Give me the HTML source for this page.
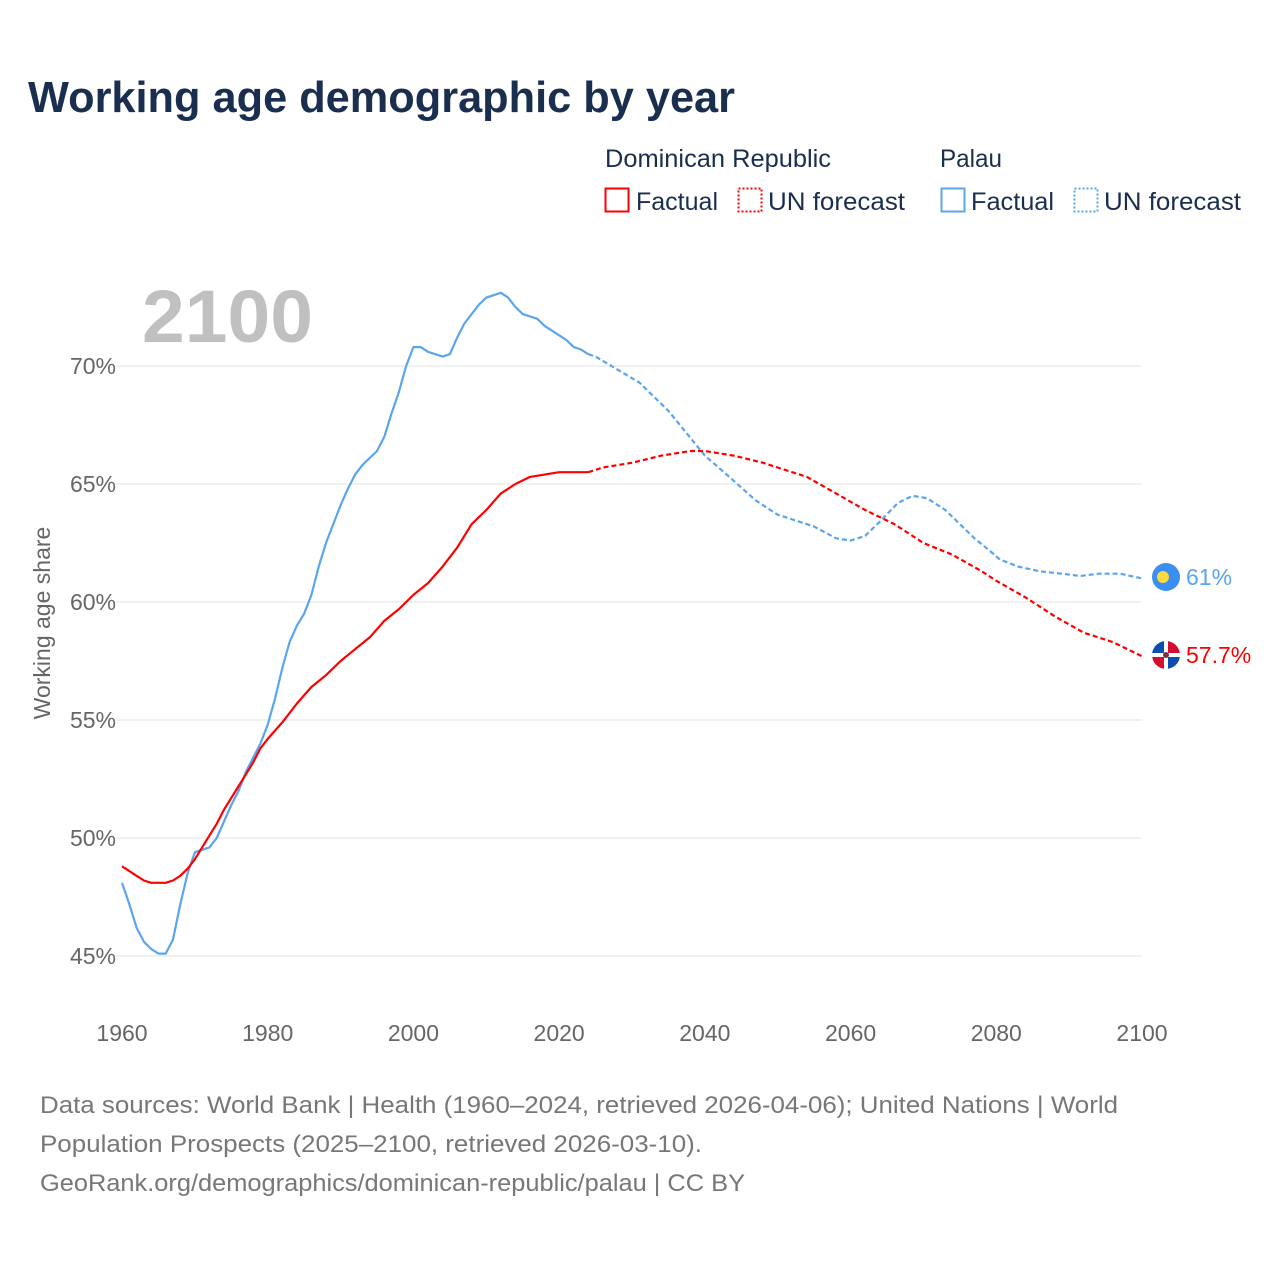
<!DOCTYPE html>
<html><head><meta charset="utf-8"><style>
html,body{margin:0;padding:0;background:#fff;}
svg{display:block;font-family:"Liberation Sans",sans-serif;}
</style></head><body>
<svg id="chart" width="1280" height="1280" viewBox="0 0 1280 1280">
<text x="28" y="112" font-size="44" font-weight="bold" fill="#1a2e4f" textLength="707" lengthAdjust="spacingAndGlyphs">Working age demographic by year</text>
<g font-size="25" fill="#1a2e4f">
<text x="605" y="167" textLength="226" lengthAdjust="spacingAndGlyphs">Dominican Republic</text>
<text x="940" y="167" textLength="62" lengthAdjust="spacingAndGlyphs">Palau</text>
<g><rect x="605.5" y="188.5" width="23" height="23" fill="none" stroke="#f00" stroke-width="2"/><text x="636" y="210" textLength="82" lengthAdjust="spacingAndGlyphs">Factual</text></g>
<g><rect x="738.5" y="188.5" width="23" height="23" fill="none" stroke="#f00" stroke-width="2" stroke-dasharray="2 2"/><text x="768" y="210" textLength="137" lengthAdjust="spacingAndGlyphs">UN forecast</text></g>
<g><rect x="941.5" y="188.5" width="23" height="23" fill="none" stroke="#5aa5ee" stroke-width="2"/><text x="971" y="210" textLength="83" lengthAdjust="spacingAndGlyphs">Factual</text></g>
<g><rect x="1074.5" y="188.5" width="23" height="23" fill="none" stroke="#5aa5ee" stroke-width="2" stroke-dasharray="2 2"/><text x="1104" y="210" textLength="137" lengthAdjust="spacingAndGlyphs">UN forecast</text></g>
</g>
<text x="142" y="342" font-size="74" font-weight="bold" fill="#c0c0c0" textLength="171" lengthAdjust="spacingAndGlyphs">2100</text>
<g id="grid"></g>
<g id="yticks" font-size="23" fill="#666"></g>
<g id="xticks" font-size="23" fill="#666"></g>
<text transform="translate(50,623) rotate(-90)" text-anchor="middle" font-size="23" fill="#666">Working age share</text>
<g id="series"></g>
<g><circle cx="1166" cy="577" r="14" fill="#3b8ff0"/><circle cx="1163" cy="577" r="6" fill="#ffd93b"/></g>
<text x="1186" y="585" font-size="23" fill="#5aa5ee">61%</text>
<g>
<clipPath id="cf"><circle cx="1166" cy="655" r="14"/></clipPath>
<g clip-path="url(#cf)"><rect x="1152" y="641" width="28" height="28" fill="#fff"/><rect x="1152" y="641" width="12" height="12" fill="#0a4fb0"/><rect x="1168" y="641" width="12" height="12" fill="#d2102e"/><rect x="1152" y="657" width="12" height="12" fill="#d2102e"/><rect x="1168" y="657" width="12" height="12" fill="#0a4fb0"/><circle cx="1166" cy="655" r="3" fill="#7a3040"/></g></g>
<text x="1186" y="663" font-size="23" fill="#f00">57.7%</text>
<g font-size="24" fill="#777">
<text x="40" y="1113" textLength="1078" lengthAdjust="spacingAndGlyphs">Data sources: World Bank | Health (1960–2024, retrieved 2026-04-06); United Nations | World</text>
<text x="40" y="1152" textLength="662" lengthAdjust="spacingAndGlyphs">Population Prospects (2025–2100, retrieved 2026-03-10).</text>
<text x="40" y="1191" textLength="705" lengthAdjust="spacingAndGlyphs">GeoRank.org/demographics/dominican-republic/palau | CC BY</text>
</g>
</svg>
<script>
const yTicks = [45, 50, 55, 60, 65, 70];
const xTicks = [1960, 1980, 2000, 2020, 2040, 2060, 2080, 2100];
const drYears = [1960,1962,1963,1964,1966,1967,1968,1969,1970,1971,1972,1973,1974,1975,1976,1977,1978,1979,1980,1982,1984,1986,1988,1990,1992,1994,1996,1998,2000,2002,2004,2006,2008,2010,2012,2014,2016,2018,2020,2024];
const drValues = [48.8,48.4,48.2,48.1,48.1,48.2,48.4,48.7,49.1,49.6,50.1,50.6,51.2,51.7,52.2,52.7,53.2,53.8,54.2,54.9,55.7,56.4,56.9,57.5,58.0,58.5,59.2,59.7,60.3,60.8,61.5,62.3,63.3,63.9,64.6,65.0,65.3,65.4,65.5,65.5];
const drFcYears = [2024,2026,2030,2034,2038,2040,2044,2048,2050,2054,2058,2062,2066,2070,2074,2078,2080,2084,2088,2092,2096,2100];
const drFcValues = [65.5,65.7,65.9,66.2,66.4,66.4,66.2,65.9,65.7,65.3,64.6,63.9,63.3,62.5,62.0,61.3,60.9,60.2,59.4,58.7,58.3,57.7];
const plYears = [1960,1961,1962,1963,1964,1965,1966,1967,1968,1969,1970,1971,1972,1973,1974,1975,1976,1977,1978,1979,1980,1981,1982,1983,1984,1985,1986,1987,1988,1989,1990,1991,1992,1993,1994,1995,1996,1997,1998,1999,2000,2001,2002,2003,2004,2005,2006,2007,2008,2009,2010,2011,2012,2013,2014,2015,2016,2017,2018,2019,2020,2021,2022,2023,2024];
const plValues = [48.1,47.2,46.2,45.6,45.3,45.1,45.1,45.7,47.2,48.5,49.4,49.5,49.6,50.0,50.7,51.4,52.0,52.8,53.4,54.0,54.8,55.9,57.2,58.3,59.0,59.5,60.3,61.5,62.5,63.3,64.1,64.8,65.4,65.8,66.1,66.4,67.0,68.0,68.9,70.0,70.8,70.8,70.6,70.5,70.4,70.5,71.2,71.8,72.2,72.6,72.9,73.0,73.1,72.9,72.5,72.2,72.1,72.0,71.7,71.5,71.3,71.1,70.8,70.7,70.5];
const plFcYears = [2024,2025,2031,2035,2040,2043,2047,2050,2053,2055,2058,2060,2062,2064,2066.5,2068.5,2070.5,2073,2075,2077,2079,2080.5,2083,2086,2089,2091.5,2094,2097,2100];
const plFcValues = [70.5,70.4,69.3,68.1,66.2,65.4,64.3,63.7,63.4,63.2,62.7,62.6,62.8,63.4,64.2,64.5,64.4,63.9,63.3,62.7,62.2,61.8,61.5,61.3,61.2,61.1,61.2,61.2,61.0];

const X0 = 122, X1 = 1142, Y0 = 366, Y1 = 956;
function xScale(y){ return X0 + (y - 1960) * (X1 - X0) / 140; }
function yScale(v){ return Y0 + (70 - v) * (Y1 - Y0) / 25; }
const NS = 'http://www.w3.org/2000/svg';
const grid = document.getElementById('grid'), yt = document.getElementById('yticks'), xt = document.getElementById('xticks'), ser = document.getElementById('series');
yTicks.forEach(v => {
  const l = document.createElementNS(NS, 'line');
  
  
  l.setAttribute('x1', X0 - 6); l.setAttribute('x2', X1);
  l.setAttribute('y1', yScale(v)); l.setAttribute('y2', yScale(v));
  l.setAttribute('stroke', '#e3e3e3'); l.setAttribute('stroke-width', '1');
  grid.appendChild(l);
  const t = document.createElementNS(NS, 'text');
  
  
  t.setAttribute('x', 116); t.setAttribute('y', yScale(v) + 8);
  t.setAttribute('text-anchor', 'end');
  t.textContent = v + '%';
  yt.appendChild(t);
});
xTicks.forEach(y => {
  const t = document.createElementNS(NS, 'text');
  
  
  t.setAttribute('x', xScale(y)); t.setAttribute('y', 1041);
  t.setAttribute('text-anchor', 'middle');
  t.textContent = y;
  xt.appendChild(t);
});
function line(xs, vs, color, dashed, name){
  const p = document.createElementNS(NS, 'path');
  
  
  p.setAttribute('d', xs.map((y, i) => (i ? 'L' : 'M') + xScale(y).toFixed(1) + ',' + yScale(vs[i]).toFixed(1)).join(''));
  p.setAttribute('fill', 'none'); p.setAttribute('stroke', color); p.setAttribute('stroke-width', '2.2');
  p.setAttribute('stroke-linejoin', 'round');
  if (dashed) p.setAttribute('stroke-dasharray', '5 3');
  ser.appendChild(p);
}
line(plYears, plValues, '#5aa5ee', false, 'line-palau-factual');
line(plFcYears, plFcValues, '#5aa5ee', true, 'line-palau-forecast');
line(drYears, drValues, '#f00', false, 'line-dominican-republic-factual');
line(drFcYears, drFcValues, '#f00', true, 'line-dominican-republic-forecast');
</script>
</body></html>
